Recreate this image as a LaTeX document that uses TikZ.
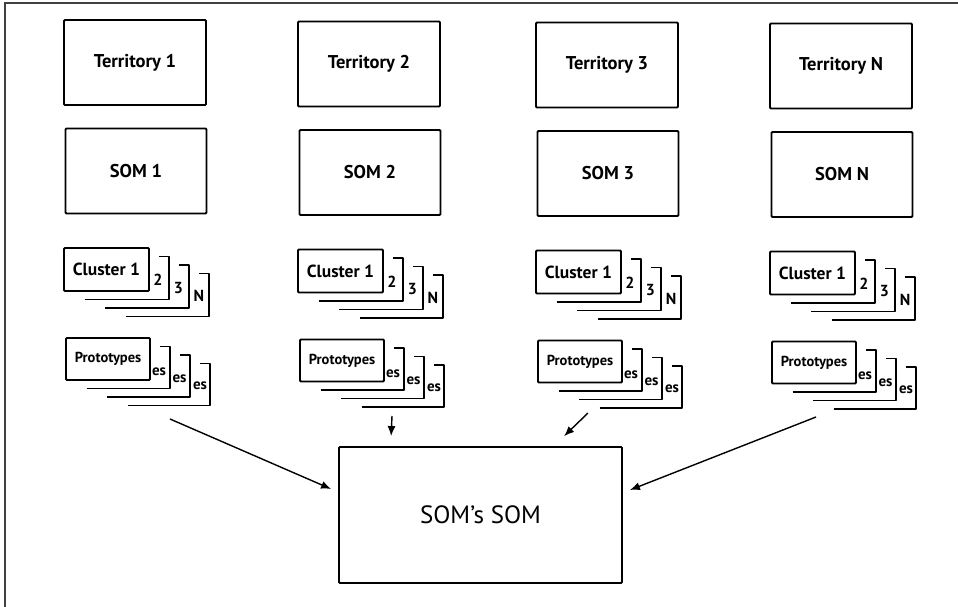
\documentclass[tikz,border=0pt]{standalone}
\usepackage{fontspec}
\setmainfont{PT Sans}
\usetikzlibrary{arrows.meta,calc,positioning}

\tikzset{
  box/.style={draw, line width=1.8pt, rounded corners=1pt, inner sep=0pt,
    minimum width=142pt, minimum height=85pt, font=\bfseries\fontsize{18.5}{20}\selectfont},
  card/.style={draw, line width=1.8pt, rounded corners=1pt, inner sep=0pt, fill=white,
    minimum width=85pt, minimum height=43pt},
  back/.style={line width=1.8pt, line join=round},
  arr/.style={line width=1.4pt, -{Latex[length=10pt,width=8pt]}}
}

\begin{document}
\begin{tikzpicture}[x=1pt,y=-1pt]

  \useasboundingbox (0,0) rectangle (958,607);

  % frame
  \draw[line width=1.5pt, black!75] (958,3) -- (5,3) -- (5,607);

  \foreach \i/\x/\d/\n in {1/64/0/1, 2/298/1.5/2, 3/536/2.5/3, 4/770/3.5/N} {

    \node[box] (t\i) at (\x+71, 62.5+\d) {Territory \n};
    \node[box, minimum width=141pt] (s\i) at (\x+72, 171+\d) {SOM \n};

    % clusters
    \foreach \k/\lab in {3/N, 2/3, 1/2} {
      \draw[back] (\x+\k*20.5, 291+\d+\k*8.5) -- (\x+85+\k*20, 291+\d+\k*8.5)
        -- (\x+85+\k*20, 248+\d+\k*8.5) -- (\x+75+\k*20, 248+\d+\k*8.5);
      \node[font=\bfseries\fontsize{16}{16}\selectfont] at (\x+94+\k*20.5-20.5, 280+\d+\k*8-8) {\lab};
    }
    \node[card, font=\bfseries\fontsize{17.5}{18}\selectfont] (c\i) at (\x+42.5, 269.5+\d) {Cluster 1};

    % prototypes
    \foreach \k in {3,2,1} {
      \draw[back] (\x+2+\k*20.5, 380+\d+\k*8.5) -- (\x+86+\k*20, 380+\d+\k*8.5)
        -- (\x+86+\k*20, 338+\d+\k*8.5) -- (\x+76+\k*20, 338+\d+\k*8.5);
      \node[font=\bfseries\fontsize{15}{14}\selectfont] at (\x+95+\k*20.5-20.5, 372+\d+\k*7-7) {es};
    }
    \node[card, minimum width=84pt, minimum height=42pt, font=\bfseries\fontsize{14.5}{16}\selectfont]
      (p\i) at (\x+44, 359+\d) {Prototypes};
  }

  \node[box, minimum width=283pt, minimum height=136pt, font=\fontsize{25}{26}\selectfont]
    (ssom) at (480.5,515) {SOM's SOM};

  \coordinate (f1) at (170,419);
  \coordinate (f2) at (392,416);
  \coordinate (f3) at (588,413);
  \coordinate (f4) at (816,417);

  \draw[arr] (f1) -- ($(ssom.west)+(-7,-26)$);
  \draw[arr] (f2) -- ($(ssom.north west)+(53,-10)$);
  \draw[arr] (f3) -- ($(ssom.north west)+(226,-10)$);
  \draw[arr] (f4) -- ($(ssom.east)+(7,-25)$);

\end{tikzpicture}
\end{document}
